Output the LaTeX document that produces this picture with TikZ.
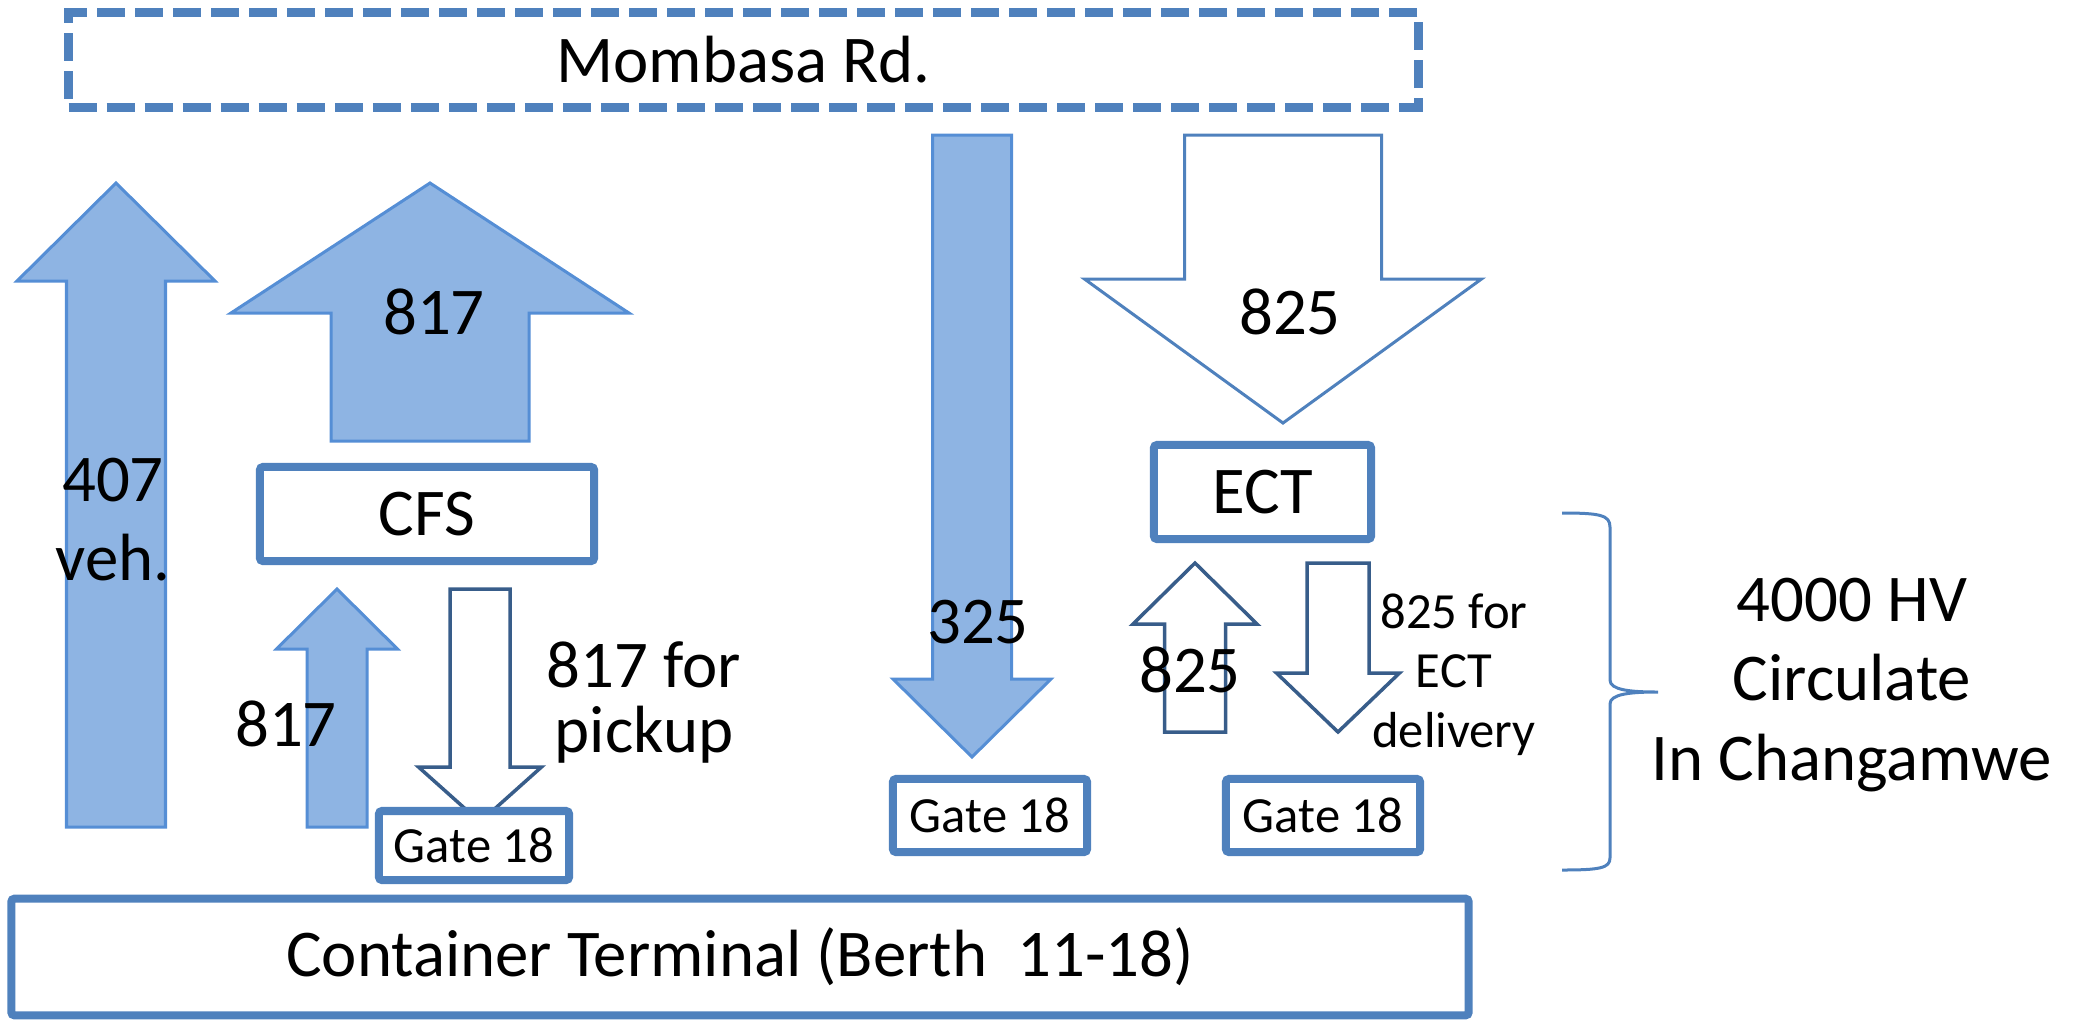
\documentclass[tikz,border=0pt]{standalone}
\usepackage{fontspec}
\setmainfont{Carlito}
\usepackage{tikz}
\definecolor{boxblue}{HTML}{4F81BD}
\definecolor{arrowfill}{HTML}{8EB4E3}
\definecolor{arrowedge}{HTML}{558ED5}
\definecolor{darkedge}{HTML}{385D8A}
\tikzset{
  site/.style={draw=boxblue, line width=0.08cm, fill=white, rounded corners=0.03cm, inner sep=0pt},
  road/.style={draw=boxblue, line width=0.09cm, dash pattern=on 0.28cm off 0.1cm, inner sep=0pt},
  fullarrow/.style={fill=arrowfill, draw=arrowedge, line width=0.03cm},
  openarrow/.style={fill=white, draw=boxblue, line width=0.03cm},
  darkarrow/.style={fill=white, draw=darkedge, line width=0.035cm},
  bigtext/.style={font=\fontsize{19}{22.7}\selectfont, align=center, inner sep=0pt},
  smalltext/.style={font=\fontsize{14.4}{17}\selectfont, align=center, inner sep=0pt}
}
% block arrow: style, x, tail y, head base y, tip y, shaft half width, head half width
\newcommand{\blockarrow}[7]{%
  \draw[#1] (#2-#6,#3) -- (#2-#6,#4) -- (#2-#7,#4) -- (#2,#5)
    -- (#2+#7,#4) -- (#2+#6,#4) -- (#2+#6,#3) -- cycle;}

\begin{document}
\begin{tikzpicture}[x=0.01cm, y=-0.01cm]
\useasboundingbox (0,0) rectangle (2074,1020);

% truck flows
\blockarrow{fullarrow}{116}{827}{281}{183}{49.5}{99}
\blockarrow{fullarrow}{430}{441}{313}{183}{99}{199}
\blockarrow{fullarrow}{337}{827}{649}{589}{30}{60.5}
\blockarrow{darkarrow}{480}{589}{767}{822}{30}{61.5}
\blockarrow{fullarrow}{972}{135}{679}{757}{39.5}{79}
\blockarrow{openarrow}{1283}{135}{279}{423}{98.5}{198.5}
\blockarrow{darkarrow}{1195}{732}{624}{563}{30.5}{62}
\blockarrow{darkarrow}{1338}{563}{673}{732}{31}{61.5}

% road, yards and gates
\node (road) [road, bigtext, minimum width=13.49cm, minimum height=0.94cm] at (743.5,60) {Mombasa Rd.};
\node (cfs) [site, bigtext, minimum width=3.34cm, minimum height=0.94cm] at (427,514) {CFS};
\node (ect) [site, bigtext, minimum width=2.17cm, minimum height=0.94cm] at (1262.5,492) {ECT};
\node (gateA) [site, smalltext, minimum width=1.9cm, minimum height=0.69cm] at (474,845.5) {Gate 18};
\node (gateB) [site, smalltext, minimum width=1.94cm, minimum height=0.73cm] at (990,815.5) {Gate 18};
\node (gateC) [site, smalltext, minimum width=1.94cm, minimum height=0.73cm] at (1323,815.5) {Gate 18};
\node (terminal) [site, bigtext, minimum width=14.565cm, minimum height=1.165cm] at (740,957) {Container Terminal (Berth\ \ 11-18)};

% volumes
\node (vehOut) [bigtext] at (113,519.5) {407\\veh.};
\node (cfsOut) [bigtext] at (434,312) {817};
\node (cfsIn) [bigtext] at (286,724) {817};
\node (pickup) [bigtext, font=\fontsize{19}{18.5}\selectfont] at (644,702) {817 for\\pickup};
\node (gateIn) [bigtext] at (978,622) {325};
\node (ectIn) [bigtext] at (1290,312) {825};
\node (ectOut) [bigtext] at (1190,670) {825};
\node (delivery) [smalltext] at (1454,674.5) {825 for\\ECT\\delivery};
\node (total) [bigtext] at (1852,685) {4000 HV\\Circulate\\In Changamwe};

% brace round the ECT side
\draw[boxblue, line width=0.03cm] (1562,513) .. controls (1600,513) and (1610,515) .. (1610,527)
  -- (1610,680) .. controls (1610,690) and (1630,692) .. (1658,692)
  .. controls (1630,692) and (1610,694) .. (1610,704)
  -- (1610,858) .. controls (1610,868) and (1600,870) .. (1562,870);
\end{tikzpicture}
\end{document}
